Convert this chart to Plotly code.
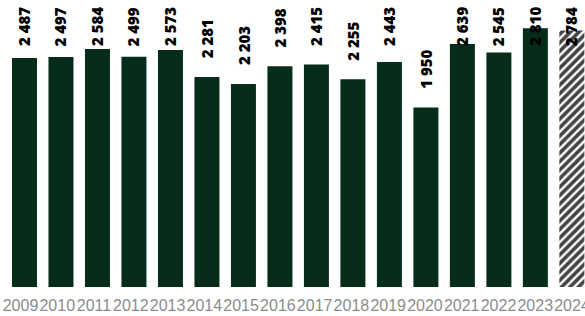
import plotly.graph_objects as go

years = ["2009", "2010", "2011", "2012", "2013", "2014", "2015", "2016",
         "2017", "2018", "2019", "2020", "2021", "2022", "2023", "2024"]
values = [2487, 2497, 2584, 2499, 2573, 2281, 2203, 2398,
          2415, 2255, 2443, 1950, 2639, 2545, 2810, 2784]
labels = ["2 487", "2 497", "2 584", "2 499", "2 573", "2 281", "2 203", "2 398",
          "2 415", "2 255", "2 443", "1 950", "2 639", "2 545", "2 810", "2 784"]

GREEN = "#052d1a"
n = len(years)

fig = go.Figure()
fig.add_trace(go.Bar(
    x=list(range(n)), y=values,
    marker=dict(
        color=[GREEN] * (n - 1) + ["white"],
        line=dict(width=0),
        pattern=dict(shape=[""] * (n - 1) + ["/"], fgcolor=GREEN, fgopacity=1,
                     bgcolor="white", size=6, solidity=0.6),
    ),
    hoverinfo="skip",
))

# value labels (rotated), placed above bars but kept inside the top of the plot
YMAX = 3116
for i, (v, t) in enumerate(zip(values, labels)):
    fig.add_annotation(
        x=i, y=min(v + 185, 2595), xref="x", yref="y",
        text=t, textangle=-90, showarrow=False,
        xanchor="center", yanchor="bottom",
        font=dict(family="Open Sans", size=15, color="#000000", weight=800),
    )

fig.update_layout(
    width=585, height=316,
    margin=dict(l=0, r=0, t=0, b=29, autoexpand=False),
    paper_bgcolor="white", plot_bgcolor="white",
    showlegend=False,
    bargap=0.315,
    xaxis=dict(range=[-0.671, 15.36], showgrid=False, zeroline=False, automargin=False,
               showticklabels=False, showline=False, fixedrange=True),
    xaxis2=dict(range=[-0.5575, 15.353], overlaying="x", side="bottom", anchor="y",
                tickmode="array", tickvals=list(range(n)), ticktext=years,
                tickangle=0, ticklabeloverflow="allow", automargin=False,
                showgrid=False, zeroline=False, showline=False, ticks="",
                tickfont=dict(family="Liberation Sans, Arial", size=16, color="#8c8c8c"),
                ticklabelstandoff=7),
    yaxis=dict(range=[0, YMAX], showgrid=False, zeroline=False, automargin=False,
               showticklabels=False, showline=False, fixedrange=True),
)
# invisible trace so xaxis2 renders
fig.add_trace(go.Scatter(x=[0], y=[0], xaxis="x2", yaxis="y", mode="markers",
                         marker=dict(opacity=0), hoverinfo="skip"))

fig.write_html("out.html", config={"displayModeBar": False},
               post_script="document.body.style.margin='0';document.body.style.overflow='hidden';")
